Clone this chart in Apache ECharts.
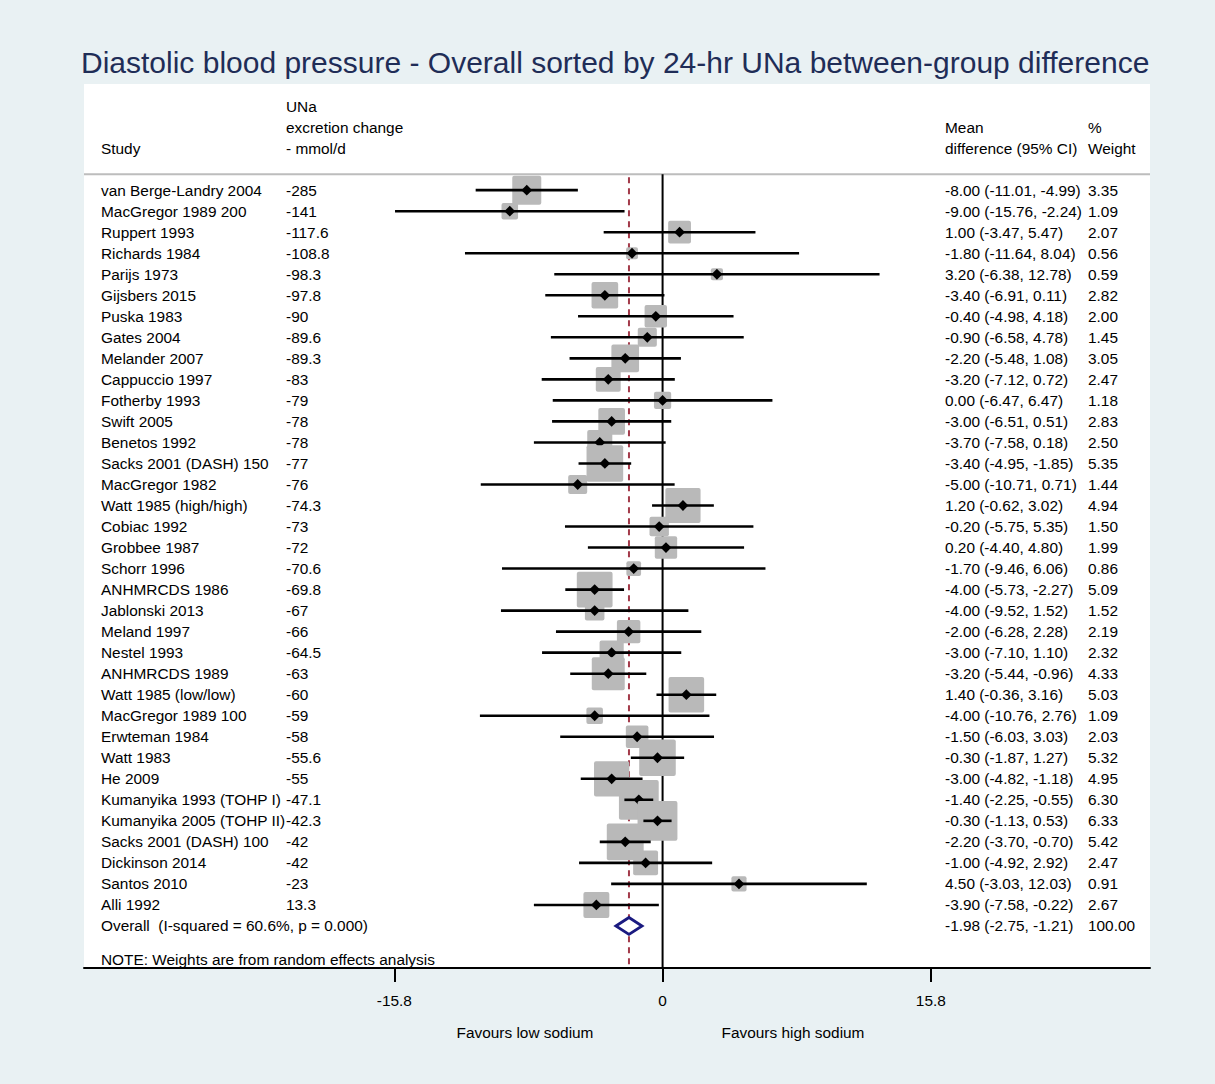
<!DOCTYPE html>
<html><head><meta charset="utf-8">
<script src="https://cdn.jsdelivr.net/npm/echarts@6/dist/echarts.min.js"></script>
<style>html,body{margin:0;padding:0;background:#e9f1f3}#c{width:1215px;height:1084px}</style>
</head><body><div id="c"></div>
<script>
// ---- data ----
const studies = ['van Berge-Landry 2004','MacGregor 1989 200','Ruppert 1993','Richards 1984','Parijs 1973','Gijsbers 2015','Puska 1983','Gates 2004','Melander 2007','Cappuccio 1997','Fotherby 1993','Swift 2005','Benetos 1992','Sacks 2001 (DASH) 150','MacGregor 1982','Watt 1985 (high/high)','Cobiac 1992','Grobbee 1987','Schorr 1996','ANHMRCDS 1986','Jablonski 2013','Meland 1997','Nestel 1993','ANHMRCDS 1989','Watt 1985 (low/low)','MacGregor 1989 100','Erwteman 1984','Watt 1983','He 2009','Kumanyika 1993 (TOHP I)','Kumanyika 2005 (TOHP II)','Sacks 2001 (DASH) 100','Dickinson 2014','Santos 2010','Alli 1992'];
const unaChange = [-285,-141,-117.6,-108.8,-98.3,-97.8,-90,-89.6,-89.3,-83,-79,-78,-78,-77,-76,-74.3,-73,-72,-70.6,-69.8,-67,-66,-64.5,-63,-60,-59,-58,-55.6,-55,-47.1,-42.3,-42,-42,-23,13.3];
const meanDiff = [-8.00,-9.00,1.00,-1.80,3.20,-3.40,-0.40,-0.90,-2.20,-3.20,0.00,-3.00,-3.70,-3.40,-5.00,1.20,-0.20,0.20,-1.70,-4.00,-4.00,-2.00,-3.00,-3.20,1.40,-4.00,-1.50,-0.30,-3.00,-1.40,-0.30,-2.20,-1.00,4.50,-3.90];
const ciLow = [-11.01,-15.76,-3.47,-11.64,-6.38,-6.91,-4.98,-6.58,-5.48,-7.12,-6.47,-6.51,-7.58,-4.95,-10.71,-0.62,-5.75,-4.40,-9.46,-5.73,-9.52,-6.28,-7.10,-5.44,-0.36,-10.76,-6.03,-1.87,-4.82,-2.25,-1.13,-3.70,-4.92,-3.03,-7.58];
const ciHigh = [-4.99,-2.24,5.47,8.04,12.78,0.11,4.18,4.78,1.08,0.72,6.47,0.51,0.18,-1.85,0.71,3.02,5.35,4.80,6.06,-2.27,1.52,2.28,1.10,-0.96,3.16,2.76,3.03,1.27,-1.18,-0.55,0.53,-0.70,2.92,12.03,-0.22];
const weights = [3.35,1.09,2.07,0.56,0.59,2.82,2.00,1.45,3.05,2.47,1.18,2.83,2.50,5.35,1.44,4.94,1.50,1.99,0.86,5.09,1.52,2.19,2.32,4.33,5.03,1.09,2.03,5.32,4.95,6.30,6.33,5.42,2.47,0.91,2.67];
const overallLabel = 'Overall  (I-squared = 60.6%, p = 0.000)';
const overallEst = -1.98, overallLow = -2.75, overallHigh = -1.21, overallWeight = 100.00;
const xTicks = [-15.8, 0, 15.8];
const headerStudy = ['Study'];
const headerUna = ['UNa','excretion change','- mmol/d'];
const headerMD = ['Mean','difference (95% CI)'];
const headerW = ['%','Weight'];
const noteText = 'NOTE: Weights are from random effects analysis';
const titleText = 'Diastolic blood pressure - Overall sorted by 24-hr UNa between-group difference';
const favours = ['Favours low sodium','Favours high sodium'];

// ---- layout ----
const FONT = '15.4px "Liberation Sans", Arial, sans-serif';
const COL = {study:101, una:286, md:945, w:1088};
const fmt = v => v.toFixed(2);

const textItems = [];
textItems.push({row:-1, col:'study', text:headerStudy[0]});
headerUna.forEach((t,i)=>textItems.push({row:-3+i, col:'una', text:t}));
headerMD.forEach((t,i)=>textItems.push({row:-2+i, col:'md', text:t}));
headerW.forEach((t,i)=>textItems.push({row:-2+i, col:'w', text:t}));
studies.forEach((s,i)=>{
  const r=i+1;
  textItems.push({row:r, col:'study', text:s});
  textItems.push({row:r, col:'una', text:String(unaChange[i])});
  textItems.push({row:r, col:'md', text:fmt(meanDiff[i])+' ('+fmt(ciLow[i])+', '+fmt(ciHigh[i])+')'});
  textItems.push({row:r, col:'w', text:fmt(weights[i])});
});
const oRow = studies.length+1;
textItems.push({row:oRow, col:'study', text:overallLabel});
textItems.push({row:oRow, col:'md', text:fmt(overallEst)+' ('+fmt(overallLow)+', '+fmt(overallHigh)+')'});
textItems.push({row:oRow, col:'w', text:fmt(overallWeight)});
textItems.push({row:oRow+1.6, col:'study', text:noteText});

const chart = echarts.init(document.getElementById('c'), null, {renderer:'svg'});
const SEP = 0.24, YMAX = 38;
chart.setOption({
  backgroundColor:'#e9f1f3',
  animation:false,
  title:{text:titleText, left:76, top:42, textStyle:{fontFamily:'"Liberation Sans", Arial, sans-serif', fontSize:30, fontWeight:'normal', color:'#1f2d57'}},
  grid:{left:84, right:65, top:84, bottom:116, show:true, backgroundColor:'#ffffff', borderWidth:0},
  xAxis:{type:'value', min:-34.08, max:28.71, position:'bottom',
    axisLine:{show:true, onZero:false, lineStyle:{color:'#000', width:2}},
    axisTick:{show:true, customValues:xTicks, length:14, lineStyle:{color:'#000', width:2}},
    axisLabel:{show:true, customValues:xTicks, margin:25, color:'#000', fontSize:15.4, fontFamily:'"Liberation Sans", Arial, sans-serif', formatter:v=>String(v)},
    splitLine:{show:false}},
  yAxis:{type:'value', inverse:true, min:-4.05, max:YMAX, show:false},
  graphic:[
    {type:'text', x:525, y:1032, style:{text:favours[0], font:FONT, fill:'#000', align:'center', verticalAlign:'middle'}},
    {type:'text', x:793, y:1032, style:{text:favours[1], font:FONT, fill:'#000', align:'center', verticalAlign:'middle'}}
  ],
  series:[
    { // separator and reference lines
      type:'custom', data:[[0,0]], silent:true, z:1,
      renderItem:(p,api)=>{
        const cs=p.coordSys;
        const ys=api.coord([0,SEP])[1], ye=api.coord([0,YMAX])[1];
        const x0=api.coord([0,0])[0], xo=api.coord([overallEst,0])[0];
        return {type:'group', children:[
          {type:'line', shape:{x1:cs.x, y1:ys, x2:cs.x+cs.width, y2:ys}, style:{stroke:'#bdbdbd', lineWidth:2}},
          {type:'line', shape:{x1:x0, y1:ys, x2:x0, y2:ye}, style:{stroke:'#000', lineWidth:2}},
          {type:'line', shape:{x1:xo, y1:ys+3, x2:xo, y2:ye}, style:{stroke:'#a33a4a', lineWidth:2, lineDash:[6,5]}, z2:5}
        ]};
      }
    },
    { // study markers
      type:'custom', z:3, silent:true,
      data: studies.map((s,i)=>[meanDiff[i], i+1, ciLow[i], ciHigh[i], weights[i]]),
      encode:{x:[0,2,3], y:1},
      renderItem:(p,api)=>{
        const c=api.coord([api.value(0), api.value(1)]);
        const xl=api.coord([api.value(2),0])[0], xh=api.coord([api.value(3),0])[0];
        const side=15.85*Math.sqrt(api.value(4));
        const d=5.4;
        return {type:'group', children:[
          {type:'rect', shape:{x:c[0]-side/2, y:c[1]-side/2, width:side, height:side, r:2}, style:{fill:'#b9b9b9'}},
          {type:'line', shape:{x1:xl, y1:c[1], x2:xh, y2:c[1]}, style:{stroke:'#000', lineWidth:2.6}},
          {type:'polygon', shape:{points:[[c[0]-d,c[1]],[c[0],c[1]-d],[c[0]+d,c[1]],[c[0],c[1]+d]]}, style:{fill:'#000'}}
        ]};
      }
    },
    { // overall diamond
      type:'custom', z:4, silent:true,
      data:[[overallEst, oRow, overallLow, overallHigh]],
      encode:{x:[0,2,3], y:1},
      renderItem:(p,api)=>{
        const c=api.coord([api.value(0), api.value(1)]);
        const xl=api.coord([api.value(2),0])[0], xh=api.coord([api.value(3),0])[0];
        const h=8.5;
        return {type:'polygon', shape:{points:[[xl,c[1]],[c[0],c[1]-h],[xh,c[1]],[c[0],c[1]+h]]}, style:{fill:'#ffffff', stroke:'#1a1a80', lineWidth:2.8}};
      }
    },
    { // text columns
      type:'custom', z:5, silent:true,
      data: textItems.map((t,i)=>[0, t.row, i]),
      renderItem:(p,api)=>{
        const t=textItems[api.value(2)];
        const y=api.coord([0, api.value(1)])[1];
        return {type:'text', style:{x:COL[t.col], y:y, text:t.text, font:FONT, fill:'#000', align:'left', verticalAlign:'middle'}};
      }
    }
  ]
});
</script></body></html>
